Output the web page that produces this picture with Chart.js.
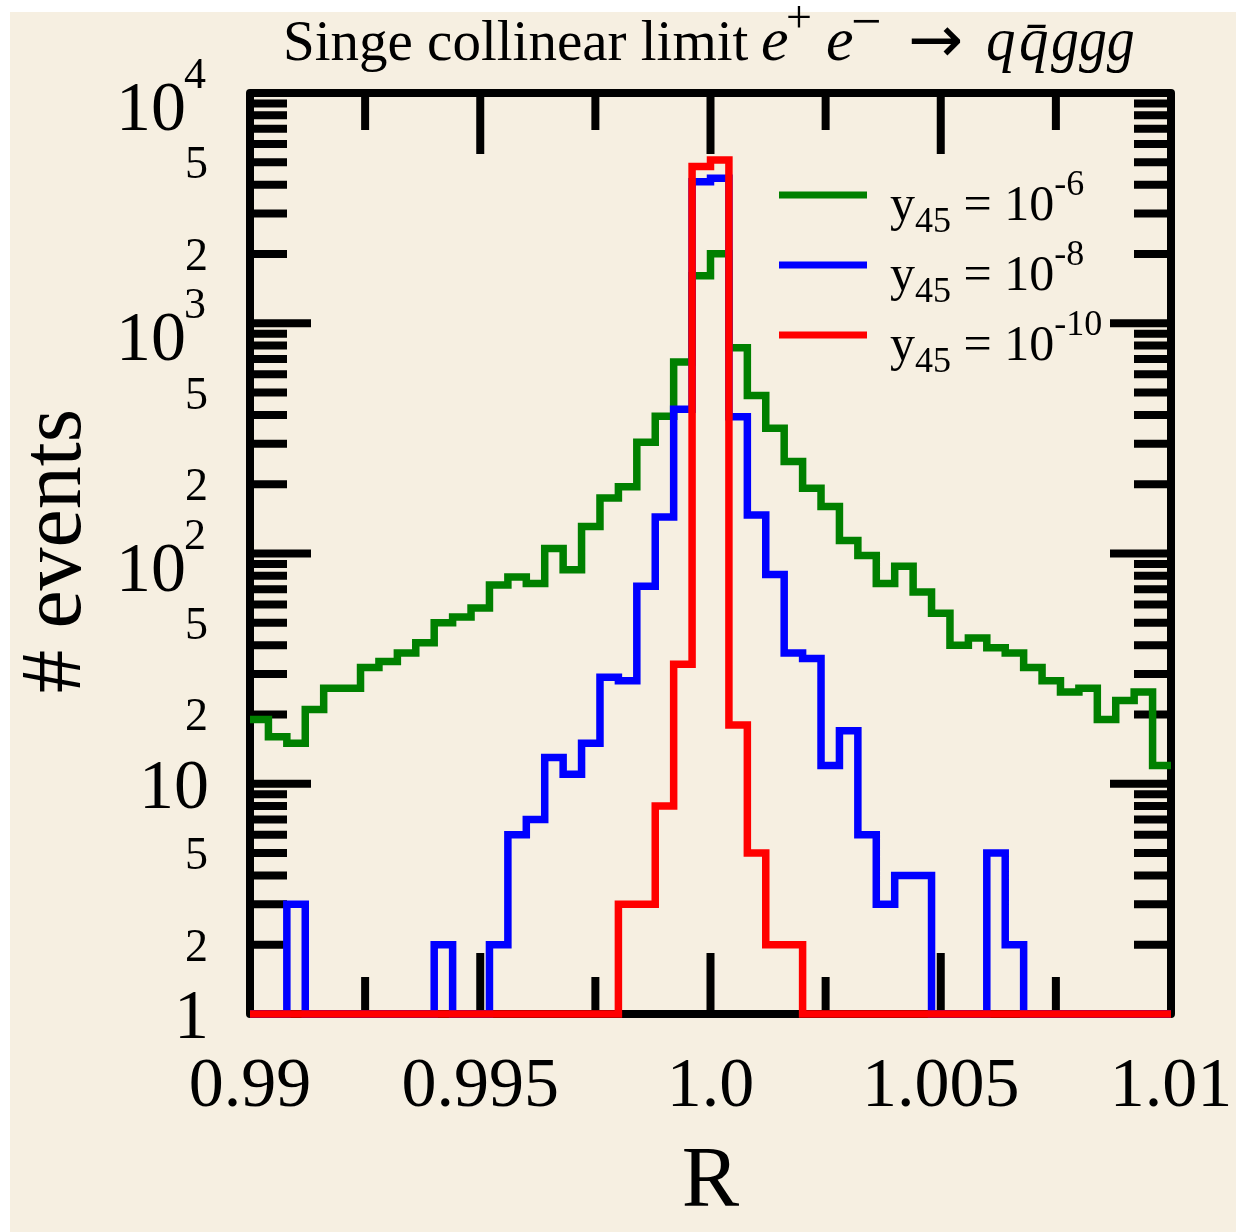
<!DOCTYPE html>
<html><head><meta charset="utf-8">
<script src="https://cdn.jsdelivr.net/npm/chart.js@4/dist/chart.umd.min.js"></script>
<style>html,body{margin:0;padding:0;background:#fff;}canvas{display:block;}</style>
</head><body>
<canvas id="c" width="1236" height="1232"></canvas>
<script>
// ---- data ----
const binLow = 0.99;
const binWidth = 0.0004;
const seriesNames = ['-6', '-8', '-10'];
const seriesColors = ['#008000', '#0000ff', '#ff0000'];
const green = [19,16,15,21,26,26,32,34,37,41,50,53,58,73,79,74,105,85,131,174,195,304,395,679,1609,2005,783,485,350,251,192,160,114,98,74,88,68,55,40,43,39,37,32,28,25,26,19,23,25,12];
const blue  = [1,1,3,1,1,1,1,1,1,1,2,1,1,2,6,7,13,11,15,29,28,72,144,423,4120,4260,393,147,81,37,35,12,17,6,3,4,4,1,1,1,5,2,1,1,1,1,1,1,1,1];
const red   = [1,1,1,1,1,1,1,1,1,1,1,1,1,1,1,1,1,1,1,1,3,3,8,33,4790,5120,18,5,2,2,1,1,1,1,1,1,1,1,1,1,1,1,1,1,1,1,1,1,1,1];
const xTickValues = [0.99, 0.995, 1.0, 1.005, 1.01];
const xTickLabels = ['0.99', '0.995', '1.0', '1.005', '1.01'];
const xMinorTicks = [0.9925, 0.9975, 1.0025, 1.0075];
const yDecades = [1, 10, 100, 1000, 10000];
const yDecadeExp = [0, 1, 2, 3, 4];
const yMinorLabels = [2, 5];
const titleText = 'Singe collinear limit';
const xTitle = 'R';
const yTitle = '# events';

function toSteps(vals) {
  const pts = vals.map((v, k) => ({x: binLow + k * binWidth, y: v}));
  pts.push({x: binLow + vals.length * binWidth, y: vals[vals.length - 1]});
  return pts;
}

const SERIF = '"Liberation Serif", "DejaVu Serif", serif';
function f(size, style, fam) { return (style ? style + ' ' : '') + size + 'px ' + (fam || SERIF); }

const decor = {
  id: 'decor',
  beforeDraw(chart) {
    const ctx = chart.ctx;
    ctx.save();
    ctx.fillStyle = '#ffffff';
    ctx.fillRect(0, 0, chart.width, chart.height);
    ctx.fillStyle = '#f6efe1';
    ctx.fillRect(10, 12, chart.width - 10, chart.height - 12);
    ctx.restore();
  },
  beforeDatasetsDraw(chart) {
    const ctx = chart.ctx, a = chart.chartArea;
    const xs = chart.scales.x, ys = chart.scales.y;
    ctx.save();
    ctx.strokeStyle = '#000';
    ctx.lineCap = 'butt';
    const maj = 61, mnr = 37;
    ctx.lineWidth = 8;
    const vt = (x, len) => {
      ctx.beginPath(); ctx.moveTo(x, a.top); ctx.lineTo(x, a.top + len); ctx.stroke();
      ctx.beginPath(); ctx.moveTo(x, a.bottom); ctx.lineTo(x, a.bottom - len); ctx.stroke();
    };
    const ht = (y, len) => {
      ctx.beginPath(); ctx.moveTo(a.left, y); ctx.lineTo(a.left + len, y); ctx.stroke();
      ctx.beginPath(); ctx.moveTo(a.right, y); ctx.lineTo(a.right - len, y); ctx.stroke();
    };
    xTickValues.forEach(v => vt(xs.getPixelForValue(v), maj));
    xMinorTicks.forEach(v => vt(xs.getPixelForValue(v), mnr));
    yDecades.forEach((d, i) => {
      ht(ys.getPixelForValue(d), maj);
      if (i < yDecades.length - 1) {
        for (let m = 2; m <= 9; m++) ht(ys.getPixelForValue(d * m), mnr);
      }
    });
    ctx.lineWidth = 8;
    ctx.lineJoin = 'round';
    ctx.strokeRect(a.left, a.top, a.right - a.left, a.bottom - a.top);
    ctx.restore();
  },
  afterDraw(chart) {
    const ctx = chart.ctx, a = chart.chartArea;
    const xs = chart.scales.x, ys = chart.scales.y;
    ctx.save();
    ctx.fillStyle = '#000';
    ctx.textBaseline = 'alphabetic';
    // x tick labels
    ctx.font = f(70);
    ctx.textAlign = 'center';
    xTickValues.forEach((v, i) => ctx.fillText(xTickLabels[i], xs.getPixelForValue(v), 1106));
    // y tick labels
    const rx = 207;
    yDecades.forEach((d, i) => {
      const y = ys.getPixelForValue(d);
      const e = yDecadeExp[i];
      if (e <= 1) {
        ctx.font = f(70); ctx.textAlign = 'right';
        ctx.fillText(String(d), rx + 2, y + 24);
      } else {
        ctx.font = f(70); ctx.textAlign = 'right';
        ctx.fillText('10', 186, y + 37);
        ctx.font = f(44); ctx.textAlign = 'left';
        ctx.fillText(String(e), 184, y - 5);
      }
      if (i < yDecades.length - 1) {
        ctx.font = f(46); ctx.textAlign = 'right';
        yMinorLabels.forEach(m => ctx.fillText(String(m), rx + 1, ys.getPixelForValue(d * m) + 16));
      }
    });
    // axis titles
    ctx.font = f(86); ctx.textAlign = 'center';
    ctx.fillText(xTitle, (a.left + a.right) / 2, 1206);
    ctx.save();
    ctx.translate(80, 551);
    ctx.rotate(-Math.PI / 2);
    ctx.fillText(yTitle, 0, 0);
    ctx.restore();
    // title with math
    ctx.textAlign = 'left';
    const tb = 60;
    ctx.font = f(57);
    ctx.fillText(titleText, 283, tb);
    const parts = [
      {t: 'e', x: 761, y: tb, font: f(62, 'italic'), sx: 1},
      {t: '+', x: 786, y: tb - 28, font: f(46), sx: 1},
      {t: 'e', x: 826, y: tb, font: f(62, 'italic'), sx: 1},
      {t: '\u2212', x: 851, y: tb - 21, font: f(54), sx: 1},
      {t: '\u2192', x: 908, y: tb + 2, font: f(66, '', '"DejaVu Sans", sans-serif'), sx: 1},
      {t: 'q', x: 986, y: tb, font: f(62, 'italic'), sx: 0.95},
      {t: 'q\u0304', x: 1019, y: tb, font: f(62, 'italic'), sx: 0.95},
      {t: 'ggg', x: 1051, y: tb, font: f(62, 'italic'), sx: 0.9}
    ];
    parts.forEach(p => {
      ctx.save();
      ctx.translate(p.x, p.y);
      ctx.scale(p.sx, 1);
      ctx.font = p.font;
      ctx.fillText(p.t, 0, 0);
      ctx.restore();
    });
    // legend
    chart.data.datasets.forEach((ds, i) => {
      const ly = 195 + 70 * i;
      ctx.strokeStyle = ds.borderColor;
      ctx.lineWidth = 7;
      ctx.lineCap = 'butt';
      ctx.beginPath(); ctx.moveTo(779, ly); ctx.lineTo(867, ly); ctx.stroke();
      let lx = 890; const bl = ly + 25;
      const seg = [
        {t: 'y', font: f(50), dy: 0},
        {t: '45', font: f(36), dy: 12},
        {t: ' = 10', font: f(50), dy: 0},
        {t: seriesNames[i], font: f(36), dy: -25}
      ];
      seg.forEach(s => { ctx.font = s.font; ctx.fillText(s.t, lx, bl + s.dy); lx += ctx.measureText(s.t).width; });
    });
    ctx.restore();
  }
};

const series = [green, blue, red];
new Chart(document.getElementById('c'), {
  type: 'line',
  data: {
    datasets: series.map((vals, i) => ({
      label: 'y45 = 10^' + seriesNames[i],
      data: toSteps(vals),
      borderColor: seriesColors[i],
      borderWidth: 7.5,
      stepped: 'before',
      pointRadius: 0,
      fill: false,
      borderJoinStyle: 'miter',
      borderCapStyle: 'butt',
      order: 3 - i,
      clip: false
    }))
  },
  options: {
    responsive: false,
    animation: false,
    devicePixelRatio: 1,
    layout: {padding: {left: 250, top: 93, right: 65, bottom: 218}},
    plugins: {legend: {display: false}, title: {display: false}, tooltip: {enabled: false}},
    scales: {
      x: {type: 'linear', min: 0.99, max: 1.01, display: false},
      y: {type: 'logarithmic', min: 1, max: 10000, display: false}
    }
  },
  plugins: [decor]
});
</script>
</body></html>
